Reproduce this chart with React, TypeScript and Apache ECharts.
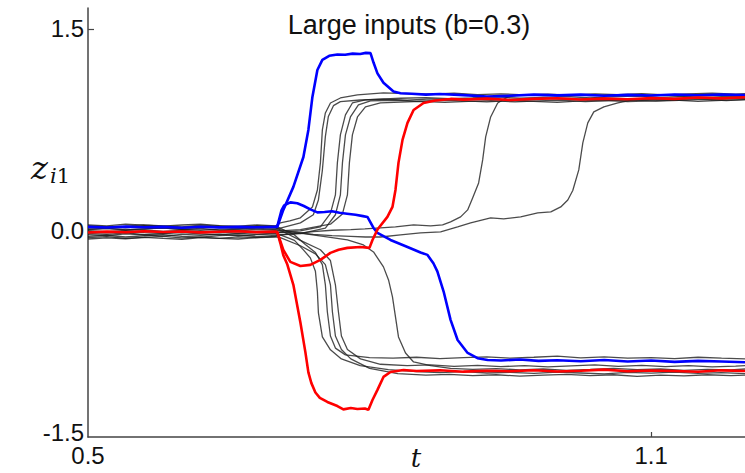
import React, { useEffect, useRef } from "react";
import * as echarts from "echarts";

// ---- data: [t, z] pairs ----
const blueUp: number[][] = [
  [0.5,0.03],[0.52,0.025],[0.54,0.032],[0.56,0.027],[0.58,0.03],[0.6,0.024],[0.62,0.031],[0.64,0.026],[0.66,0.03],[0.68,0.027],[0.7,0.03],
  [0.7017,0.03],[0.7081,0.156],[0.7188,0.327],[0.7295,0.549],[0.7348,0.75],[0.7391,0.995],[0.7444,1.195],[0.7497,1.27],[0.757,1.3],[0.7657,1.31],[0.774,1.308],[0.782,1.316],[0.79,1.314],[0.796,1.322],[0.801,1.32],
  [0.8042,1.25],[0.8084,1.17],[0.8148,1.1],[0.8255,1.035],[0.833,1.022],[0.845,1.018],[0.86,1.012],[0.875,1.016],[0.9,1.008],[0.925,0.998],[0.95,1.003],[0.975,1.012],[1.0,1.006],[1.025,1.012],[1.05,1.004],[1.075,1.01],[1.1,1.005],[1.125,1.013],[1.15,1.007],[1.175,1.013],[1.2,1.008]
];
const blueDown: number[][] = [
  [0.7,0.03],[0.7017,0.035],[0.706,0.15],[0.709,0.19],[0.7156,0.212],[0.723,0.205],[0.73,0.185],[0.7369,0.16],[0.7444,0.138],[0.752,0.14],[0.76,0.146],[0.768,0.135],[0.776,0.128],[0.785,0.12],[0.793,0.11],[0.7977,0.104],
  [0.8042,0.022],[0.8084,-0.015],[0.8223,-0.067],[0.8404,-0.119],[0.8543,-0.16],[0.8617,-0.178],[0.868,-0.24],[0.8722,-0.3],[0.8789,-0.45],[0.8863,-0.66],[0.8938,-0.81],[0.9045,-0.906],[0.915,-0.945],[0.9258,-0.958],
  [0.94,-0.962],[0.96,-0.955],[0.98,-0.965],[1.0,-0.96],[1.025,-0.968],[1.05,-0.958],[1.075,-0.97],[1.1,-0.962],[1.125,-0.972],[1.15,-0.965],[1.175,-0.97],[1.2,-0.975]
];
const redDown: number[][] = [
  [0.5,-0.012],[0.52,-0.005],[0.54,-0.01],[0.56,-0.002],[0.58,-0.008],[0.6,-0.004],[0.62,-0.011],[0.64,-0.006],[0.66,-0.002],[0.68,-0.009],[0.7,-0.005],
  [0.7017,-0.01],[0.7049,-0.09],[0.7081,-0.18],[0.7124,-0.25],[0.7188,-0.4],[0.7263,-0.68],[0.7316,-0.9],[0.7348,-1.05],[0.738,-1.13],[0.7423,-1.2],[0.747,-1.24],[0.755,-1.27],[0.7657,-1.3],[0.7721,-1.325],[0.78,-1.315],[0.787,-1.322],[0.795,-1.318],[0.7988,-1.328],
  [0.8031,-1.255],[0.8084,-1.18],[0.8148,-1.084],[0.8223,-1.047],[0.8362,-1.032],[0.85,-1.04],[0.875,-1.035],[0.9,-1.045],[0.925,-1.038],[0.95,-1.042],[0.975,-1.034],[1.0,-1.044],[1.025,-1.038],[1.05,-1.03],[1.075,-1.042],[1.1,-1.036],[1.125,-1.04],[1.15,-1.046],[1.175,-1.035],[1.2,-1.04]
];
const redUp: number[][] = [
  [0.7,-0.005],[0.7017,-0.01],[0.7081,-0.141],[0.7156,-0.23],[0.7263,-0.26],[0.7369,-0.252],[0.7476,-0.215],[0.7583,-0.163],[0.767,-0.14],[0.7764,-0.126],[0.7903,-0.119],[0.7999,-0.126],
  [0.8031,-0.067],[0.8084,0.01],[0.819,0.104],[0.8244,0.178],[0.8276,0.304],[0.8308,0.505],[0.8351,0.676],[0.8404,0.802],[0.8469,0.898],[0.8575,0.95],[0.87,0.968],[0.8863,0.98],
  [0.9,0.975],[0.925,0.982],[0.95,0.972],[0.975,0.98],[1.0,0.985],[1.025,0.976],[1.05,0.982],[1.075,0.978],[1.1,0.986],[1.125,0.98],[1.15,0.99],[1.175,0.984],[1.2,0.992]
];

const blackU1: number[][] = [
  [0.5,0.045],[0.52,0.038],[0.54,0.05],[0.56,0.042],[0.58,0.035],[0.6,0.044],[0.62,0.05],[0.64,0.04],[0.66,0.036],[0.68,0.045],[0.7,0.038],
  [0.7049,0.06],[0.715,0.075],[0.7263,0.097],[0.7391,0.178],[0.7444,0.304],[0.7476,0.505],[0.7497,0.75],[0.7529,0.876],[0.7583,0.95],[0.7689,0.987],[0.7871,1.01],[0.8148,1.025],
  [0.84,1.02],[0.865,1.015],[0.89,1.022],[0.915,1.012],[0.94,1.018],[0.965,1.01],[0.99,1.016],[1.015,1.008],[1.04,1.018],[1.065,1.012],[1.09,1.02],[1.115,1.01],[1.14,1.017],[1.165,1.022],[1.19,1.015],[1.2,1.02]
];
const blackU2: number[][] = [
  [0.5,0.01],[0.52,0.018],[0.54,0.008],[0.56,0.015],[0.58,0.02],[0.6,0.012],[0.62,0.005],[0.64,0.014],[0.66,0.018],[0.68,0.01],[0.7,0.015],
  [0.7049,0.02],[0.7263,0.06],[0.7401,0.12],[0.7455,0.23],[0.7497,0.45],[0.7529,0.7],[0.7561,0.85],[0.7615,0.93],[0.7689,0.96],[0.79,0.972],[0.815,0.978],
  [0.84,0.97],[0.865,0.98],[0.89,0.975],[0.915,0.985],[0.94,0.978],[0.965,0.972],[0.99,0.982],[1.015,0.976],[1.04,0.985],[1.065,0.978],[1.09,0.972],[1.115,0.98],[1.14,0.986],[1.165,0.978],[1.19,0.99],[1.2,0.985]
];
const blackU3: number[][] = [
  [0.5,-0.018],[0.52,-0.025],[0.54,-0.015],[0.56,-0.028],[0.58,-0.02],[0.6,-0.012],[0.62,-0.022],[0.64,-0.03],[0.66,-0.018],[0.68,-0.024],[0.7,-0.016],
  [0.7049,-0.01],[0.7263,0.0],[0.7476,0.03],[0.7583,0.13],[0.7636,0.267],[0.7657,0.505],[0.7689,0.713],[0.7743,0.861],[0.7817,0.95],[0.7956,0.973],[0.833,0.985],
  [0.86,0.99],[0.885,0.982],[0.91,0.988],[0.935,0.995],[0.96,0.985],[0.985,0.992],[1.01,0.998],[1.035,0.988],[1.06,0.996],[1.085,1.002],[1.11,0.992],[1.135,0.998],[1.16,1.004],[1.185,0.996],[1.2,1.0]
];
const blackU4: number[][] = [
  [0.5,-0.04],[0.52,-0.032],[0.54,-0.045],[0.56,-0.036],[0.58,-0.028],[0.6,-0.04],[0.62,-0.047],[0.64,-0.035],[0.66,-0.03],[0.68,-0.042],[0.7,-0.034],
  [0.7049,-0.03],[0.7263,-0.02],[0.7529,0.02],[0.7636,0.12],[0.7689,0.267],[0.7711,0.505],[0.7743,0.713],[0.7796,0.846],[0.7881,0.935],[0.801,0.965],
  [0.825,0.97],[0.85,0.962],[0.875,0.97],[0.9,0.965],[0.925,0.958],[0.95,0.968],[0.975,0.962],[1.0,0.955],[1.025,0.965],[1.05,0.97],[1.075,0.96],[1.1,0.966],[1.125,0.972],[1.15,0.962],[1.175,0.97],[1.2,0.975]
];
const blackU5: number[][] = [
  [0.5,0.002],[0.52,-0.006],[0.54,0.004],[0.56,0.008],[0.58,-0.003],[0.6,0.003],[0.62,-0.008],[0.64,0.0],[0.66,0.006],[0.68,-0.004],[0.7,0.002],
  [0.7049,0.0],[0.7263,0.01],[0.7583,0.05],[0.7711,0.126],[0.7764,0.267],[0.7785,0.505],[0.7817,0.713],[0.7871,0.846],[0.7956,0.921],[0.8116,0.95],[0.8543,0.962],
  [0.88,0.955],[0.905,0.962],[0.93,0.968],[0.955,0.958],[0.98,0.965],[1.005,0.97],[1.03,0.96],[1.055,0.967],[1.08,0.972],[1.105,0.964],[1.13,0.97],[1.155,0.976],[1.18,0.968],[1.2,0.975]
];
const blackU6: number[][] = [
  [0.5,-0.05],[0.52,-0.042],[0.54,-0.055],[0.56,-0.048],[0.58,-0.04],[0.6,-0.052],[0.62,-0.046],[0.64,-0.056],[0.66,-0.044],[0.68,-0.05],[0.7,-0.04],
  [0.7049,-0.03],[0.72,-0.02],[0.74,-0.005],[0.76,0.005],[0.78,0.01],[0.795,0.015],[0.8116,0.022],[0.8276,0.03],[0.8469,0.045],[0.865,0.037],[0.8778,0.045],[0.8863,0.067],[0.897,0.104],[0.9045,0.156],
  [0.9098,0.245],[0.9162,0.356],[0.9205,0.527],[0.9237,0.698],[0.929,0.846],[0.9365,0.95],[0.9472,0.995],[0.961,1.012],
  [0.985,1.005],[1.01,1.012],[1.035,1.004],[1.06,1.01],[1.085,1.0],[1.11,1.008],[1.135,1.003],[1.16,1.012],[1.185,1.006],[1.2,1.01]
];
const blackU7: number[][] = [
  [0.5,0.02],[0.52,0.03],[0.54,0.022],[0.56,0.035],[0.58,0.028],[0.6,0.018],[0.62,0.026],[0.64,0.034],[0.66,0.024],[0.68,0.03],[0.7,0.02],
  [0.7049,0.01],[0.72,-0.01],[0.74,-0.025],[0.76,-0.035],[0.78,-0.04],[0.7956,-0.045],[0.8116,-0.045],[0.833,-0.03],[0.8543,-0.015],[0.8757,-0.007],[0.8938,0.03],[0.9077,0.059],[0.929,0.097],[0.9429,0.089],[0.961,0.104],[0.9792,0.134],[0.9931,0.141],[1.0037,0.178],[1.0112,0.23],
  [1.0165,0.3],[1.0229,0.453],[1.0272,0.653],[1.0325,0.802],[1.0389,0.884],[1.0496,0.921],[1.0646,0.95],[1.0816,0.975],[1.1,0.982],[1.125,0.975],[1.15,0.985],[1.175,0.978],[1.2,0.988]
];
const blackD1: number[][] = [
  [0.5,-0.028],[0.52,-0.035],[0.54,-0.022],[0.56,-0.03],[0.58,-0.038],[0.6,-0.026],[0.62,-0.032],[0.64,-0.024],[0.66,-0.036],[0.68,-0.028],[0.7,-0.022],
  [0.7049,-0.03],[0.72,-0.07],[0.7295,-0.141],[0.7369,-0.2],[0.7423,-0.3],[0.7444,-0.45],[0.7455,-0.609],[0.7497,-0.787],[0.7583,-0.883],[0.77,-0.95],[0.79,-1.0],[0.82,-1.03],
  [0.85,-1.045],[0.875,-1.052],[0.9,-1.045],[0.925,-1.055],[0.95,-1.05],[0.975,-1.058],[1.0,-1.048],[1.025,-1.055],[1.05,-1.062],[1.075,-1.05],[1.1,-1.056],[1.125,-1.048],[1.15,-1.058],[1.175,-1.052],[1.2,-1.06]
];
const blackD2: number[][] = [
  [0.5,0.04],[0.52,0.03],[0.54,0.036],[0.56,0.045],[0.58,0.038],[0.6,0.03],[0.62,0.042],[0.64,0.035],[0.66,0.028],[0.68,0.04],[0.7,0.034],
  [0.7049,0.02],[0.72,-0.03],[0.7316,-0.1],[0.7423,-0.16],[0.7497,-0.25],[0.7529,-0.4],[0.755,-0.6],[0.7583,-0.78],[0.7636,-0.87],[0.7743,-0.92],[0.8,-0.94],
  [0.825,-0.945],[0.85,-0.938],[0.875,-0.948],[0.9,-0.94],[0.925,-0.935],[0.95,-0.945],[0.975,-0.938],[1.0,-0.93],[1.025,-0.942],[1.05,-0.935],[1.075,-0.945],[1.1,-0.94],[1.125,-0.948],[1.15,-0.938],[1.175,-0.945],[1.2,-0.95]
];
const blackD3: number[][] = [
  [0.5,-0.06],[0.52,-0.052],[0.54,-0.058],[0.56,-0.048],[0.58,-0.056],[0.6,-0.062],[0.62,-0.05],[0.64,-0.055],[0.66,-0.06],[0.68,-0.05],[0.7,-0.045],
  [0.7049,-0.05],[0.7263,-0.11],[0.7423,-0.17],[0.7529,-0.25],[0.7583,-0.4],[0.7604,-0.6],[0.7636,-0.78],[0.77,-0.88],[0.78,-0.95],[0.8,-1.02],[0.83,-1.06],
  [0.86,-1.07],[0.885,-1.065],[0.91,-1.075],[0.935,-1.068],[0.96,-1.078],[0.985,-1.07],[1.01,-1.065],[1.035,-1.075],[1.06,-1.068],[1.085,-1.08],[1.11,-1.07],[1.135,-1.076],[1.16,-1.068],[1.185,-1.074],[1.2,-1.07]
];
const blackD4: number[][] = [
  [0.5,0.012],[0.52,0.02],[0.54,0.008],[0.56,0.015],[0.58,0.022],[0.6,0.01],[0.62,0.018],[0.64,0.006],[0.66,0.014],[0.68,0.02],[0.7,0.01],
  [0.7049,0.005],[0.7263,-0.07],[0.7476,-0.14],[0.7583,-0.22],[0.7636,-0.4],[0.7668,-0.6],[0.77,-0.78],[0.7764,-0.88],[0.7903,-0.95],[0.8116,-0.99],
  [0.84,-1.0],[0.865,-0.995],[0.89,-1.005],[0.915,-0.998],[0.94,-1.008],[0.965,-1.0],[0.99,-1.01],[1.015,-1.002],[1.04,-0.995],[1.065,-1.006],[1.09,-0.998],[1.115,-1.008],[1.14,-1.0],[1.165,-1.01],[1.19,-1.004],[1.2,-1.0]
];
const blackD5: number[][] = [
  [0.5,-0.008],[0.52,-0.015],[0.54,-0.004],[0.56,-0.012],[0.58,-0.018],[0.6,-0.006],[0.62,-0.014],[0.64,-0.01],[0.66,-0.016],[0.68,-0.005],[0.7,-0.012],
  [0.7049,-0.01],[0.73,-0.02],[0.76,-0.05],[0.7764,-0.067],[0.7935,-0.104],[0.8042,-0.156],[0.8148,-0.267],[0.8202,-0.364],[0.8244,-0.49],[0.8276,-0.638],[0.8308,-0.787],[0.8383,-0.906],[0.8469,-0.973],[0.865,-1.0],[0.8863,-1.02],
  [0.91,-1.028],[0.935,-1.022],[0.96,-1.032],[0.985,-1.025],[1.01,-1.035],[1.035,-1.028],[1.06,-1.02],[1.085,-1.03],[1.11,-1.025],[1.135,-1.035],[1.16,-1.028],[1.185,-1.032],[1.2,-1.025]
];

const blackSeries = [blackU1, blackU2, blackU3, blackU4, blackU5, blackU6, blackU7, blackD1, blackD2, blackD3, blackD4, blackD5];
const xTickValues = [0.5, 1.1];
const yTickValues = [-1.5, 0, 1.5];
const titleText = "Large inputs (b=0.3)";

export default function App() {
  const ref = useRef<HTMLDivElement>(null);
  useEffect(() => {
    if (!ref.current) return;
    const chart = echarts.init(ref.current, null, { renderer: "svg" });
    const sans = '"Liberation Sans", Arial, sans-serif';
    const serif = '"DejaVu Serif", "Liberation Serif", serif';
    const series: any[] = [];
    blackSeries.forEach((d, i) => {
      series.push({
        type: "line", name: "b" + i, data: d, symbol: "none", smooth: false,
        lineStyle: { color: "#1e1e1e", width: 1.3, opacity: 0.8 }, z: 2,
      });
    });
    series.push({ type: "line", name: "blueUp", data: blueUp, symbol: "none", lineStyle: { color: "#0000ff", width: 2.6 }, z: 3 });
    series.push({ type: "line", name: "blueDown", data: blueDown, symbol: "none", lineStyle: { color: "#0000ff", width: 2.6 }, z: 3 });
    series.push({ type: "line", name: "redDown", data: redDown, symbol: "none", lineStyle: { color: "#ff0000", width: 2.6 }, z: 4 });
    series.push({ type: "line", name: "redUp", data: redUp, symbol: "none", lineStyle: { color: "#ff0000", width: 2.6 }, z: 4 });

    chart.setOption({
      animation: false,
      backgroundColor: "#ffffff",
      grid: { left: 88, right: 0, top: 8, bottom: 36 },
      xAxis: {
        type: "value", min: 0.5, max: 1.2,
        axisLine: { show: true, onZero: false, lineStyle: { color: "#444", width: 1.5 } },
        axisTick: { show: true, inside: true, length: 5, customValues: [1.1], lineStyle: { color: "#444", width: 1.2 } },
        axisLabel: { customValues: xTickValues, formatter: (v: number) => v.toFixed(1), fontSize: 24, color: "#111", fontFamily: sans, margin: 6 },
        splitLine: { show: false },
      },
      yAxis: {
        type: "value", min: -1.53, max: 1.655,
        axisLine: { show: true, onZero: false, lineStyle: { color: "#444", width: 1.5 } },
        axisTick: { show: true, inside: true, length: 6, customValues: [1.5, 0], lineStyle: { color: "#444", width: 1.2 } },
        axisLabel: { customValues: yTickValues, formatter: (v: number) => v.toFixed(1), fontSize: 24, color: "#111", fontFamily: sans, margin: 4 },
        splitLine: { show: false },
      },
      graphic: [
        { type: "text", style: { text: titleText, x: 409, y: 25, align: "center", verticalAlign: "middle", font: `27px ${sans}`, fill: "#111" } },
        { type: "text", style: { text: "z", x: 31, y: 168, align: "left", verticalAlign: "middle", font: `italic 32px ${serif}`, fill: "#111" } },
        { type: "text", style: { text: "{i|i}{n|1}", x: 50, y: 176, align: "left", verticalAlign: "middle", rich: { i: { font: `italic 21px ${serif}`, fill: "#111" }, n: { font: `21px ${serif}`, fill: "#111" } } } },
        { type: "text", style: { text: "t", x: 416, y: 458, align: "center", verticalAlign: "middle", font: `italic 26px ${serif}`, fill: "#111" } },
      ],
      series,
    });
    return () => chart.dispose();
  }, []);
  return <div ref={ref} style={{ position: "fixed", left: 0, top: 0, width: 745, height: 473, background: "#fff" }} />;
}
